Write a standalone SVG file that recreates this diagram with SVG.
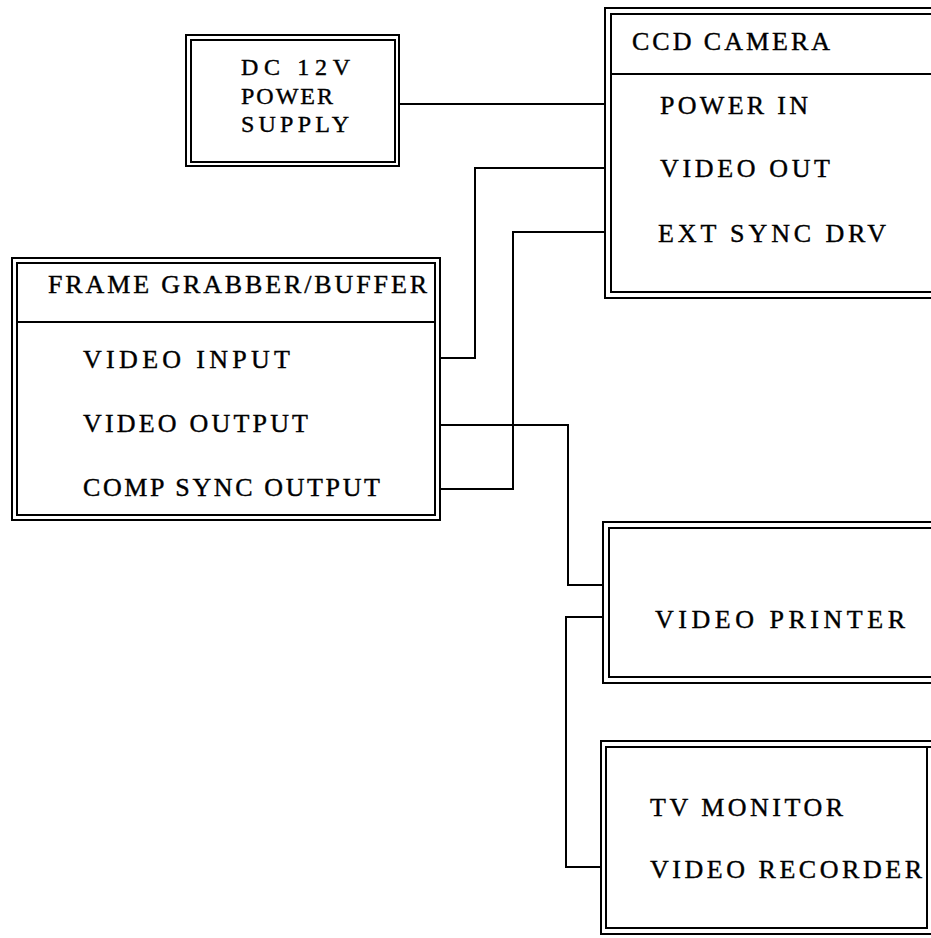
<svg xmlns="http://www.w3.org/2000/svg" width="931" height="938" viewBox="0 0 931 938">
<style>
.b{fill:none;stroke:#000;stroke-width:2}
.c{fill:none;stroke:#000;stroke-width:2}
text{font-family:"Liberation Serif","Times New Roman",serif;font-size:26px;fill:#000;stroke:#000;stroke-width:0.4}
.s{font-size:24px}
</style>
<rect width="931" height="938" fill="#fff"/>
<g id="power-supply">
<rect class="b" x="186" y="35" width="213" height="131"/>
<rect class="b" x="191" y="40" width="204" height="122"/>
<text class="s" x="241" y="75" textLength="109" lengthAdjust="spacing">DC  12V</text>
<text class="s" x="241" y="104" textLength="92" lengthAdjust="spacing">POWER</text>
<text class="s" x="241" y="132" textLength="108" lengthAdjust="spacing">SUPPLY</text>
</g>
<g id="ccd-camera">
<path class="b" d="M940 8H605V298H940"/>
<path class="b" d="M940 14H611V292H940"/>
<line class="b" x1="611" y1="74" x2="940" y2="74"/>
<text x="632" y="50" textLength="198" lengthAdjust="spacing">CCD CAMERA</text>
<text x="660" y="114" textLength="148" lengthAdjust="spacing">POWER IN</text>
<text x="660" y="177" textLength="170" lengthAdjust="spacing">VIDEO OUT</text>
<text x="658" y="242" textLength="228" lengthAdjust="spacing">EXT SYNC DRV</text>
</g>
<g id="frame-grabber">
<rect class="b" x="12" y="258" width="428" height="262"/>
<rect class="b" x="17" y="263" width="418" height="252"/>
<line class="b" x1="17" y1="322" x2="435" y2="322"/>
<text x="48" y="293" textLength="379" lengthAdjust="spacing">FRAME GRABBER/BUFFER</text>
<text x="83" y="368" textLength="207" lengthAdjust="spacing">VIDEO INPUT</text>
<text x="83" y="432" textLength="225" lengthAdjust="spacing">VIDEO OUTPUT</text>
<text x="83" y="496" textLength="297" lengthAdjust="spacing">COMP SYNC OUTPUT</text>
</g>
<g id="video-printer">
<path class="b" d="M940 522H603V683H940"/>
<path class="b" d="M940 528H609V677H940"/>
<text x="655" y="628" textLength="250" lengthAdjust="spacing">VIDEO PRINTER</text>
</g>
<g id="tv-monitor">
<path class="b" d="M940 741H601V934H940"/>
<path class="b" d="M933 747H606V928H927V747"/>
<text x="650" y="816" textLength="193" lengthAdjust="spacing">TV MONITOR</text>
<text x="650" y="878" textLength="272" lengthAdjust="spacing">VIDEO RECORDER</text>
</g>
<g id="connectors">
<path class="c" d="M399 104H605"/>
<path class="c" d="M440 358H475V168H605"/>
<path class="c" d="M440 489H513V232H605"/>
<path class="c" d="M440 425H568V585H603"/>
<path class="c" d="M603 617H566V867H601"/>
</g>
</svg>
